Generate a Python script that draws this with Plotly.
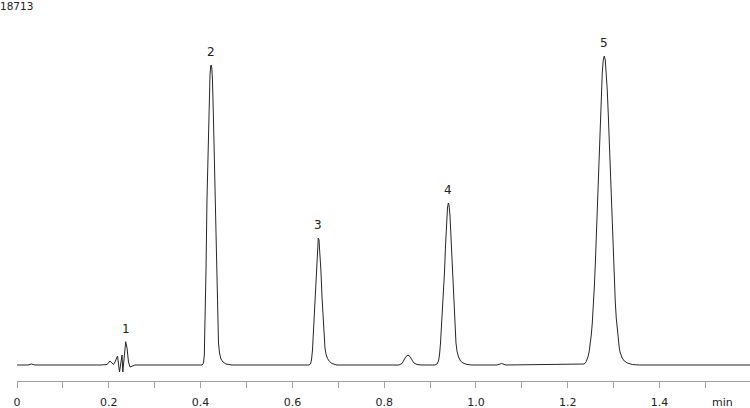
import plotly.graph_objects as go

# Chromatogram trace: retention time (min) and detector signal (counts)
time_min = [
    0.0000, 0.0240, 0.0316, 0.0392, 0.1808,
    0.1961, 0.2026, 0.2070, 0.2102, 0.2135, 0.2190, 0.2233, 0.2266, 0.2288, 0.2305,
    0.2342, 0.2368, 0.2397, 0.2429, 0.2462, 0.2505, 0.2571,
    0.4031, 0.4063, 0.4081, 0.4096, 0.4118, 0.4139, 0.4161, 0.4183, 0.4205, 0.4220,
    0.4231, 0.4244, 0.4259, 0.4281, 0.4303, 0.4325, 0.4346, 0.4368, 0.4390, 0.4412,
    0.4444, 0.4488, 0.4553, 0.4684,
    0.6362, 0.6394, 0.6416, 0.6438, 0.6460, 0.6481, 0.6503, 0.6525, 0.6547, 0.6564,
    0.6580, 0.6601, 0.6623, 0.6645, 0.6667, 0.6688, 0.6710, 0.6732, 0.6765, 0.6808,
    0.6863, 0.6972,
    0.8322, 0.8388, 0.8431, 0.8475, 0.8519, 0.8562, 0.8606, 0.8649, 0.8715, 0.8802,
    0.9107, 0.9150, 0.9183, 0.9205, 0.9227, 0.9248, 0.9270, 0.9292, 0.9314, 0.9336,
    0.9357, 0.9379, 0.9397, 0.9412, 0.9434, 0.9455, 0.9477, 0.9499, 0.9521, 0.9542,
    0.9564, 0.9586, 0.9619, 0.9662, 0.9717, 0.9804, 0.9913,
    1.0458, 1.0556, 1.0654,
    1.2359, 1.2403, 1.2425, 1.2446, 1.2468, 1.2490, 1.2512, 1.2534, 1.2555, 1.2577,
    1.2599, 1.2621, 1.2643, 1.2664, 1.2686, 1.2708, 1.2730, 1.2751, 1.2773, 1.2795,
    1.2817, 1.2839, 1.2860, 1.2882, 1.2904, 1.2926, 1.2948, 1.2969, 1.2991, 1.3013,
    1.3035, 1.3056, 1.3078, 1.3100, 1.3122, 1.3144, 1.3187, 1.3231, 1.3296, 1.3405,
    1.3558, 1.5970,
]
signal = [
    0, 0, 51, 0, 0,
    26, 205, 103, 26, 154, 461, -359, 256, 513, -359,
    666, 1194, 872, 154, -103, -51, 0,
    0, 103, 513, 1794, 4871, 8460, 11023, 13330, 14868, 15330,
    15381, 15227, 14612, 12561, 9998, 7178, 4358, 2307, 1128, 615,
    308, 154, 51, 0,
    0, 51, 256, 769, 1794, 3076, 4358, 5383, 6204, 6511,
    6409, 5794, 4768, 3486, 2307, 1436, 872, 564, 333, 179,
    77, 0,
    0, 77, 256, 436, 513, 436, 256, 103, 26, 0,
    0, 51, 205, 513, 1128, 1948, 2871, 3691, 4768, 6101,
    7229, 8049, 8306, 8203, 7639, 6511, 5127, 3794, 2666, 1743,
    1128, 718, 410, 205, 103, 26, 0,
    0, 77, 0,
    51, 179, 308, 461, 718, 1025, 1538, 2153, 2922, 3948,
    5127, 6511, 7998, 9639, 11177, 12715, 13997, 14971, 15637, 15842,
    15637, 15022, 14099, 12869, 11433, 9946, 8408, 6921, 5537, 4307,
    3230, 2410, 1743, 1230, 872, 615, 359, 205, 103, 26,
    0, 0,
]

# Peak labels
peak_labels = ["1", "2", "3", "4", "5"]
peak_times = [0.2368, 0.4231, 0.6564, 0.9397, 1.2795]
peak_heights = [1194, 15381, 6511, 8306, 15842]

# Axis
tick_values = [0, 0.2, 0.4, 0.6, 0.8, 1.0, 1.2, 1.4]
tick_labels = ["0", "0.2", "0.4", "0.6", "0.8", "1.0", "1.2", "1.4"]
x_range = [0, 1.597]
y_range = [-820, 18713]
y_max_label = "18713"
x_unit = "min"

FONT = "DejaVu Sans"
TXT = "#222222"
AX = "#a0a0a0"

fig = go.Figure()
fig.add_trace(go.Scatter(
    x=time_min, y=signal, mode="lines",
    line=dict(color="#262626", width=1),
    hoverinfo="skip", showlegend=False,
))

for lab, t, h in zip(peak_labels, peak_times, peak_heights):
    fig.add_annotation(
        x=t, y=h, xref="x", yref="y", text=lab, showarrow=False,
        yanchor="bottom", xanchor="center", yshift=4,
        font=dict(family=FONT, size=12, color=TXT),
    )

fig.add_annotation(
    x=0, y=1, xref="paper", yref="paper", text=y_max_label, showarrow=False,
    xanchor="left", yanchor="top", xshift=-19, yshift=2,
    font=dict(family=FONT, size=10.5, color=TXT),
)
fig.add_annotation(
    x=1.536, y=0, xref="x", yref="paper", text=x_unit, showarrow=False,
    xanchor="center", yanchor="top", yshift=-13,
    font=dict(family=FONT, size=11, color=TXT),
)

fig.update_layout(
    width=750, height=408,
    margin=dict(l=17, r=0, t=0, b=27),
    paper_bgcolor="white", plot_bgcolor="white",
    xaxis=dict(
        range=x_range, showgrid=False, zeroline=False,
        showline=True, linecolor=AX, linewidth=1,
        ticks="outside", ticklen=6, tickcolor=AX, tickwidth=1,
        tickvals=tick_values, ticktext=tick_labels,
        ticklabelstandoff=5,
        tickfont=dict(family=FONT, size=11, color=TXT),
        minor=dict(dtick=0.1, tick0=0, ticks="outside", ticklen=6, tickcolor=AX, tickwidth=1),
    ),
    yaxis=dict(range=y_range, visible=False, showgrid=False, zeroline=False),
)

fig.write_html("out.html")
